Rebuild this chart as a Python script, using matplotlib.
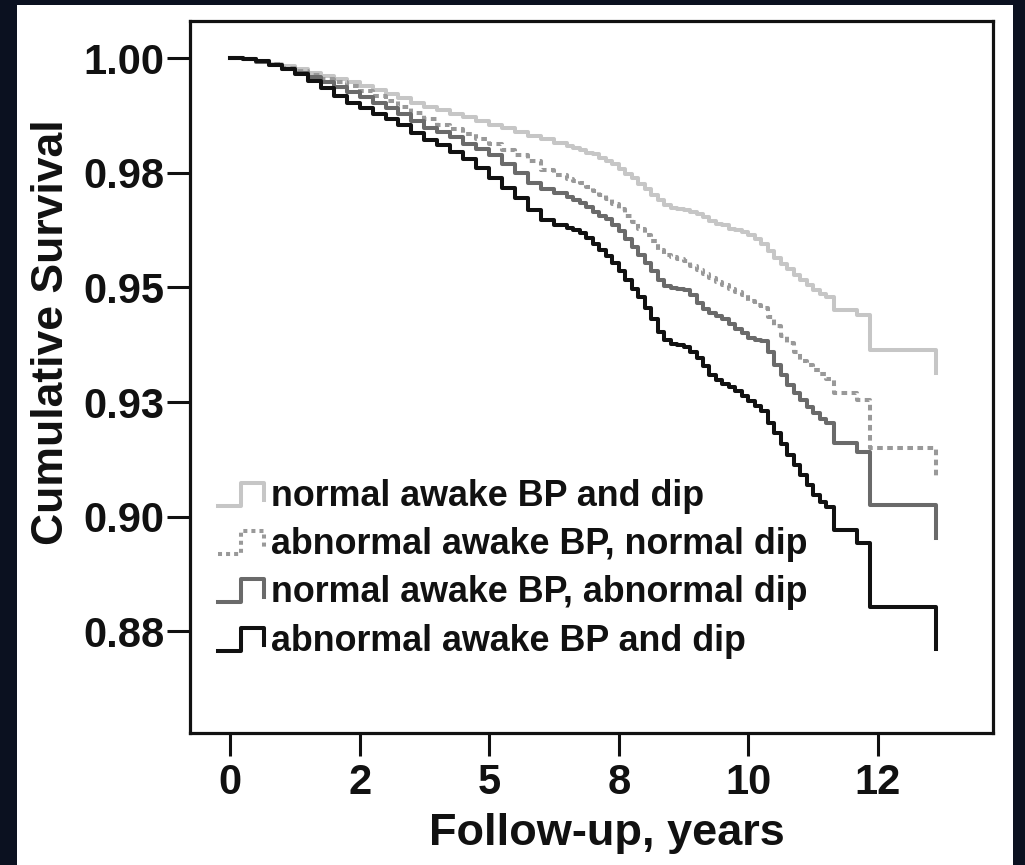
import matplotlib
matplotlib.use('Agg')
import matplotlib.pyplot as plt
from matplotlib.lines import Line2D
from matplotlib.legend_handler import HandlerBase
from matplotlib.patches import Rectangle

plt.rcParams['font.family'] = ['Liberation Sans', 'DejaVu Sans']
plt.rcParams['font.weight'] = 'bold'

# follow-up time (years) and Kaplan-Meier survival per group
years = [0, 0.25, 0.5, 0.75, 1.0, 1.25, 1.5, 1.75, 2.0, 2.25, 2.5, 2.75,
         3.0, 3.25, 3.5, 3.75, 4.0, 4.25, 4.5, 4.75, 5.0, 5.25, 5.5, 5.75,
         6.0, 6.25,
         6.5, 6.625, 6.75, 6.875, 7.0, 7.125, 7.25, 7.375, 7.5, 7.625, 7.75,
         7.875, 8.0, 8.125, 8.25, 8.375, 8.5, 8.625, 8.75, 8.875, 9.0, 9.125,
         9.25, 9.375, 9.5, 9.625, 9.75, 9.875, 10.0, 10.125, 10.25, 10.375,
         10.5, 10.625, 10.75, 10.875, 11.0, 11.125, 11.25, 11.375, 11.5,
         11.65, 12.1, 12.35, 13.62]

surv_normal = [1.0000, 0.9998, 0.9994, 0.9988, 0.9982, 0.9976, 0.9968, 0.9961,
               0.9954, 0.9947, 0.9939, 0.9931, 0.9922, 0.9913, 0.9903, 0.9893,
               0.9886, 0.9879, 0.9871, 0.9862, 0.9855, 0.9848, 0.9838, 0.9830,
               0.9823, 0.9815,
               0.9808, 0.9804, 0.9799, 0.9794, 0.9790, 0.9782, 0.9775, 0.9768,
               0.9758, 0.9748, 0.9738, 0.9725, 0.9714, 0.9702, 0.9690, 0.9680,
               0.9673, 0.9670, 0.9669, 0.9664, 0.9659, 0.9653, 0.9645, 0.9639,
               0.9635, 0.9628, 0.9624, 0.9620, 0.9615, 0.9606, 0.9594, 0.9580,
               0.9563, 0.9552, 0.9541, 0.9528, 0.9516, 0.9505, 0.9495, 0.9485,
               0.9480,
               0.9451, 0.9440, 0.9363, 0.9313]

surv_abn_bp = [1.0000, 0.9998, 0.9993, 0.9986, 0.9979, 0.9971, 0.9963, 0.9955,
               0.9947, 0.9938, 0.9928, 0.9917, 0.9906, 0.9894, 0.9880, 0.9866,
               0.9855, 0.9845, 0.9834, 0.9823, 0.9812, 0.9800, 0.9788, 0.9776,
               0.9756, 0.9745,
               0.9737, 0.9732, 0.9727, 0.9718, 0.9710, 0.9701, 0.9692, 0.9682,
               0.9670, 0.9655, 0.9642, 0.9628, 0.9614, 0.9600, 0.9582, 0.9570,
               0.9566, 0.9562, 0.9557, 0.9546, 0.9538, 0.9529, 0.9520, 0.9512,
               0.9505, 0.9496, 0.9489, 0.9483, 0.9470, 0.9462, 0.9454, 0.9435,
               0.9415, 0.9395, 0.9378, 0.9358, 0.9340, 0.9330, 0.9320, 0.9312,
               0.9300,
               0.9270, 0.9254, 0.9150, 0.9084]

surv_abn_dip = [1.0000, 0.9997, 0.9992, 0.9985, 0.9977, 0.9968, 0.9958, 0.9948,
                0.9937, 0.9926, 0.9915, 0.9903, 0.9890, 0.9877, 0.9863, 0.9848,
                0.9838, 0.9827, 0.9813, 0.9801, 0.9788, 0.9770, 0.9750, 0.9728,
                0.9714, 0.9706,
                0.9697, 0.9690, 0.9684, 0.9675, 0.9664, 0.9655, 0.9648, 0.9636,
                0.9622, 0.9606, 0.9588, 0.9570, 0.9553, 0.9536, 0.9515, 0.9503,
                0.9499, 0.9496, 0.9494, 0.9483, 0.9466, 0.9452, 0.9444, 0.9437,
                0.9430, 0.9420, 0.9410, 0.9400, 0.9390, 0.9386, 0.9382, 0.9358,
                0.9330, 0.9308, 0.9288, 0.9270, 0.9255, 0.9240, 0.9225, 0.9212,
                0.9204,
                0.9161, 0.9141, 0.9026, 0.8954]

surv_abn_both = [1.0000, 0.9997, 0.9993, 0.9985, 0.9975, 0.9965, 0.9950, 0.9935,
                 0.9917, 0.9902, 0.9890, 0.9878, 0.9868, 0.9853, 0.9837, 0.9821,
                 0.9810, 0.9795, 0.9780, 0.9760, 0.9738, 0.9716, 0.9695, 0.9668,
                 0.9646, 0.9637,
                 0.9630, 0.9625, 0.9619, 0.9608, 0.9594, 0.9582, 0.9568, 0.9554,
                 0.9536, 0.9516, 0.9497, 0.9478, 0.9456, 0.9430, 0.9402, 0.9385,
                 0.9377, 0.9374, 0.9371, 0.9360, 0.9345, 0.9328, 0.9309, 0.9298,
                 0.9290, 0.9283, 0.9274, 0.9264, 0.9252, 0.9242, 0.9230, 0.9205,
                 0.9182, 0.9158, 0.9135, 0.9113, 0.9090, 0.9068, 0.9048, 0.9032,
                 0.9021,
                 0.8971, 0.8943, 0.8803, 0.8712]

labels = ['normal awake BP and dip',
          'abnormal awake BP, normal dip',
          'normal awake BP, abnormal dip',
          'abnormal awake BP and dip']

x_ticks = [0, 2.5, 5, 7.5, 10, 12.5]
x_ticklabels = ['0', '2', '5', '8', '10', '12']
y_ticks = [0.875, 0.9, 0.925, 0.95, 0.975, 1.0]
y_ticklabels = ['0.88', '0.90', '0.93', '0.95', '0.98', '1.00']


class StepHandler(HandlerBase):
    # little step-shaped icon for the legend
    def create_artists(self, legend, orig_handle, xdescent, ydescent,
                       width, height, fontsize, trans):
        fx = [0, 0.5, 0.5, 1.0, 1.0]
        fy = [0.0, 0.0, 1.0, 1.0, 0.25]
        xs = [-xdescent + f * width for f in fx]
        ys = [-ydescent + f * 0.92 * height for f in fy]
        ln = Line2D(xs, ys, color=orig_handle.get_color(),
                    lw=orig_handle.get_linewidth(),
                    linestyle=orig_handle.get_linestyle())
        if orig_handle.get_linestyle() == '--':
            ln.set_dashes((1.0, 1.0))
        ln.set_transform(trans)
        return [ln]


fig = plt.figure(figsize=(10.25, 8.65), dpi=100, facecolor='#0b1120')
fig.patches.append(Rectangle((17 / 1025, 0), 996 / 1025, 860 / 865,
                             transform=fig.transFigure, facecolor='white',
                             edgecolor='none', zorder=-10))
ax = fig.add_axes([190 / 1025, 132 / 865, 803 / 1025, 712 / 865])

lw = 2.9
h1, = ax.plot(years, surv_normal, drawstyle='steps-post', color='#c6c6c6', lw=lw)
h2, = ax.plot(years, surv_abn_bp, drawstyle='steps-post', color='#999999', lw=lw,
              linestyle='--', dashes=(1.4, 1.1))
h3, = ax.plot(years, surv_abn_dip, drawstyle='steps-post', color='#6a6a6a', lw=lw)
h4, = ax.plot(years, surv_abn_both, drawstyle='steps-post', color='#111111', lw=lw)

ax.set_xlim(-0.772, 14.72)
ax.set_ylim(0.85284, 1.00807)
ax.set_xticks(x_ticks)
ax.set_xticklabels(x_ticklabels)
ax.set_yticks(y_ticks)
ax.set_yticklabels(y_ticklabels)
ax.tick_params(axis='both', length=16.5, width=2.2, color='#111111',
               labelsize=30, labelcolor='#111111')
ax.tick_params(axis='x', pad=5)
ax.tick_params(axis='y', pad=2)
for s in ax.spines.values():
    s.set_linewidth(2.3)
    s.set_color('#111111')

ax.set_xlabel('Follow-up, years', fontsize=32.5, fontweight='bold', color='#111111')
ax.xaxis.set_label_coords(0.519, -0.113)
ax.set_ylabel('Cumulative Survival', fontsize=32, fontweight='bold',
              color='#111111', va='center')
ax.yaxis.set_label_coords(-0.173, 0.563)

leg = ax.legend([h1, h2, h3, h4], labels, loc='upper left',
                bbox_to_anchor=(0.035, 0.357), frameon=False, fontsize=25.8,
                handler_map={Line2D: StepHandler()}, handlelength=1.27,
                handleheight=0.7, handletextpad=0.22, labelspacing=0.37,
                borderpad=0, borderaxespad=0)
for t in leg.get_texts():
    t.set_fontweight('bold')
    t.set_color('#111111')

fig.savefig('out.png', dpi=100, facecolor=fig.get_facecolor())
